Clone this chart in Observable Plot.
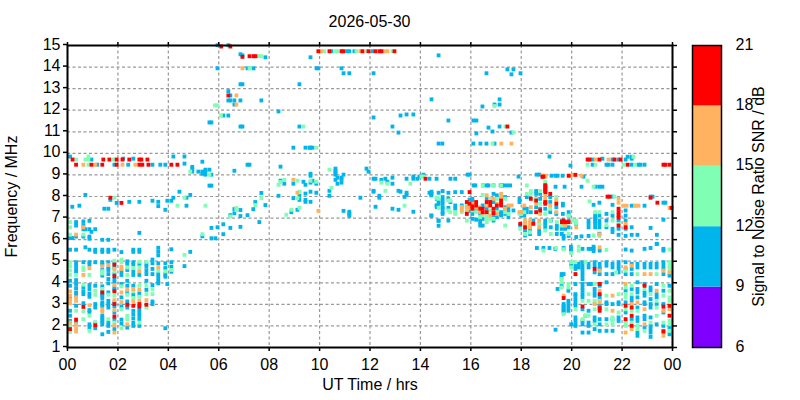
<!DOCTYPE html>
<html><head><meta charset="utf-8">
<script src="https://cdn.jsdelivr.net/npm/d3@7"></script>
<script src="https://cdn.jsdelivr.net/npm/@observablehq/plot@0.6"></script>
<style>
html,body{margin:0;padding:0;background:#fff}
#wrap{position:relative;width:800px;height:400px;overflow:hidden;font-family:"Liberation Sans",Arial,sans-serif}
#title{position:absolute;left:0;width:739px;top:13px;text-align:center;font-size:16px;color:#000}
#main,#bar{position:absolute;top:0}
#main{left:0}#bar{left:680px}
svg{overflow:visible}
</style></head><body>
<div id="wrap"><div id="title">2026-05-30</div><div id="main"></div><div id="bar"></div></div>
<script>
const xTicks = [0,2,4,6,8,10,12,14,16,18,20,22,24];
const yTicks = [1,2,3,4,5,6,7,8,9,10,11,12,13,14,15];
const snrBands = [6,9,12,15,18,21];
const bandColors = ["#8000ff","#00b4ec","#80ffb4","#ffb360","#ff0000"];

// each entry: [UT hour, [frequencies in MHz]]
const snr10 = [
 // morning block
 [0.12,[9.78,6.0,5.46,4.02,3.79,3.25,2.63,2.4,2.16]],
 [0.21,[7.45,6.0]],[0.49,[7.5]],
 [0.36,[6.74,6.58,6.07,5.46,4.88,4.72,4.56,4.41,4.05,3.87,3.68,3.48,3.33,2.86,2.08]],
 [0.65,[6.77,6.6,6.41,6.07,4.88,3.71,3.53,3.4,2.98]],
 [0.73,[8.0,6.41,5.57]],
 [0.89,[6.8,6.41,6.07,5.97,5.46,4.88,4.77,3.82,3.64,3.43,3.28,2.66,2.58,2.0,1.85]],
 [0.97,[6.29,9.64]],
 [1.12,[6.41,5.46,5.36,4.88,3.79,2.94,2.78,1.82,2.08]],
 [1.2,[9.4]],
 [1.40,[5.92,5.46,5.36,4.88,4.77,4.52,4.26,3.76,3.53,3.4,3.33,3.22,3.02,2.94,2.83,2.4,2.3,2.2,2.1,2.0,1.54]],
 [1.48,[7.36]],
 [1.64,[7.36,5.92,5.46,5.36,4.88,4.64,4.52,4.33,4.1,3.9,3.48,3.09,2.94,2.78,2.08,1.93,1.65]],
 [1.72,[7.77]],
 [1.88,[9.4,5.46,4.83,4.64,4.33,4.1,3.95,3.71,3.6,3.02,2.83,2.55,2.22,1.78]],
 [1.97,[7.63]],[2.16,[5.35,4.46,4.29,3.87,3.25,2.83,2.22,2.04]],
 [2.23,[9.68]],[2.43,[9.4]],[2.47,[7.68]],
 [2.39,[4.92,4.8,4.52,4.02,3.79,3.48,3.06,2.78,1.85]],
 [2.63,[9.68,5.46,5.36,4.88,4.77,4.46,4.29,3.79,3.37,2.63,2.47,2.28,2.08,1.93]],
 [2.87,[7.68,6.24,5.46,5.36,4.8,4.29,3.43,2.7,2.55,2.4,2.24,1.93]],
 [3.15,[4.8,4.67,4.49,4.33,4.02,3.6]],
 [3.39,[9.4,7.73,5.0,4.83,4.57,4.33,3.82,3.06,2.94]],
 [3.62,[7.68,7.48,5.55,5.37,5.2,4.83,4.33,4.18,4.02,3.9]],[3.7,[9.4]],
 [3.9,[9.4,7.31,4.83,4.61,4.33,4.21,1.82]],[3.98,[7.73,3.87]],
 [4.14,[7.73,5.48,4.88,4.67,4.44]],[4.22,[9.78,7.87]],[4.46,[8.15]],
 [4.66,[9.78,9.45,4.7]],[4.74,[7.87,7.5]],[4.89,[8.0,5.36]],
 // daytime scatter
 [4.97,[9.3,9.2,9.08]],[5.21,[9.08]],[5.37,[9.54,9.08,8.98,6.08]],
 [5.49,[9.17,9.08,8.94]],[5.65,[9.17,8.43,11.36]],[5.73,[8.94,8.43,11.36,6.47,5.99]],
 [5.89,[5.99]],[5.97,[14.94,13.87,6.5]],[6.4,[14.94,12.81,12.38,11.68]],
 [6.2,[11.68,6.64,6.18]],[6.48,[12.61,12.38,7.06,6.47]],[6.64,[12.38,12.19,9.12,7.34,7.15]],
 [6.88,[14.52,13.13,12.38,7.3,7.02,6.52,11.17]],[6.96,[14.47,13.13,11.17]],[7.16,[13.87,9.4,7.06]],
 [7.24,[9.4]],[7.4,[13.87]],[7.39,[7.34]],[7.47,[7.67]],[7.63,[6.74]],[7.71,[12.38,8.09]],
 [7.87,[14.38,7.53]],[8.39,[11.87,7.96]],[8.47,[9.31,8.66]],[8.62,[8.52]],
 [8.9,[7.2]],[8.98,[10.19,8.52,7.85]],[9.14,[7.31]],[9.22,[13.13,11.17,7.96,7.77]],
 [9.38,[8.61]],[9.46,[10.19,8.47,8.06,7.77,7.68]],[9.62,[10.19]],
 [9.66,[14.38,10.19,8.98,8.89,8.57,8.15,7.68]],[9.74,[10.19,8.66]],[9.89,[8.52,8.1]],
 [9.9,[13.87]],[9.97,[13.87]],[10.41,[8.19,7.96]],[10.49,[14.66]],[10.65,[9.22,9.12,9.03,8.94,8.7]],
 [10.73,[8.8,8.52]],[10.89,[13.87,8.8,8.74,8.57]],[10.97,[13.64,8.94,7.26]],[11.12,[14.66]],
 [11.2,[14.66,13.64,7.22,7.12,7.03]],[11.4,[14.66]],[11.64,[7.87]],[11.88,[9.22]],[11.96,[9.08]],
 [12.12,[14.66]],[12.16,[13.64,11.59,8.75,8.19,8.15]],[12.24,[8.75,7.45]],[12.39,[7.96,7.87]],
 [12.47,[8.7]],[12.63,[8.75]],[12.71,[8.61]],[12.91,[11.17,8.8,8.52,7.36]],[13.15,[10.89,8.19,7.31]],
 [13.23,[11.68,8.15]],[13.39,[7.91]],[13.47,[11.73,8.75,8.1,8.0]],[13.74,[11.73,8.85,8.75,7.22]],
 [13.9,[8.75]],[13.98,[8.85]],[14.14,[8.94]],[14.38,[8.75,8.1]],[14.46,[12.43,8.15,8.05,7.03]],
 [14.66,[8.75,7.5]],[14.74,[14.47,10.38,8.1,6.8,6.57]],
 // afternoon band
 [14.45,[8.05,7.98,7.05]],[14.67,[7.82,7.51,7.43]],[14.74,[7.74,7.59,6.81]],
 [14.89,[10.38]],[14.9,[8.18,7.9,7.74,7.59,7.43,7.36,7.2,7.12]],[15.13,[11.45,8.1,7.82,7.4,6.81]],
 [15.21,[8.75,7.67]],[15.4,[8.75,8.13,7.51,7.36]],[15.66,[8.13,7.51]],[15.86,[7.51,7.36]],
 [15.89,[8.94]],[15.97,[8.94,7.78,7.26]],[16.08,[7.82,7.74,7.12,6.89]],[16.12,[11.45,10.38]],
 [16.13,[8.44]],[16.2,[8.44]],[16.23,[7.26,6.85]],[16.24,[11.45,10.85]],[16.39,[7.12,6.89,6.74,6.58]],
 [16.4,[10.38]],[16.48,[12.1]],[16.49,[7.51,6.89,6.58]],[16.5,[8.44]],[16.64,[13.64,10.38]],
 [16.65,[8.44,7.82,7.36]],[16.72,[11.12,8.44]],[16.88,[10.94]],[16.92,[8.44,8.05,7.67,7.05,6.81]],
 [16.96,[12.19,10.38]],[17.05,[7.98,7.36,6.97]],[17.16,[12.43,12.19,11.17]],[17.2,[8.44]],
 [17.22,[7.2,7.12,7.05]],[17.25,[8.44]],[17.3,[8.44]],[17.38,[7.9,7.43,7.28,7.12]],[17.45,[8.44]],
 [17.47,[13.82]],[17.51,[7.36,7.2,6.97]],[17.58,[8.44]],[17.63,[13.59,10.89]],[17.71,[13.82,7.28]],
 [17.91,[8.85]],[17.95,[7.82,7.67]],[17.99,[13.64]],[18.02,[7.05]],[18.14,[7.36,7.2,7.05]],
 [18.24,[7.9,7.36,7.2]],[18.4,[7.2]],[18.61,[8.18,8.05,7.43]],[18.63,[8.94]],[18.74,[8.94]],
 [18.77,[8.05,7.82,7.36]],[18.97,[7.67,7.36]],[19.17,[7.9,7.67,7.2]],[19.22,[8.89]],
 [19.38,[8.89,8.38]],[19.41,[7.43,7.12]],[19.46,[8.89]],[19.66,[8.89]],[19.67,[7.59,7.51,7.12]],
 [19.74,[8.38]],[19.14,[9.78]],[19.97,[9.36]],[20.41,[8.38]],[20.49,[8.85]],[20.85,[9.64,9.4]],
 [20.97,[8.38]],[21.12,[8.38,7.64]],[21.24,[9.68,8.38]],[20.89,[7.54]],[21.4,[9.4]],[21.48,[9.4]],
 [21.64,[9.64,9.4,7.92,7.54]],[21.88,[9.64]],[22.16,[9.64,7.28]],[22.24,[9.77]],[22.4,[9.77,9.68,9.4,7.5]],
 [22.67,[9.4]],[22.75,[9.4]],[22.91,[9.4,7.5]],[23.15,[7.92,6.47]],[23.23,[7.92]],
 [23.66,[7.64,6.85]],[23.74,[7.64]],[23.4,[6.15,5.73]],
 // evening 6-7 MHz
 [17.98,[6.58]],[18.17,[6.35,6.12]],[18.37,[6.35,6.19]],[18.5,[6.81]],[18.73,[6.35,6.19]],
 [18.97,[6.81,6.66,6.5]],[19.19,[6.81,6.5]],[19.43,[6.58,6.43,6.19]],[19.63,[6.81,6.43,6.19]],
 [19.76,[6.43]],[19.9,[6.81,6.5]],[19.7,[6.1,5.98]],[19.9,[7.2,7.04,6.1]],[20.2,[6.66,6.05]],
 [20.41,[6.08]],[20.69,[6.81,6.66,6.5,6.1]],[20.95,[7.04,6.9,6.81,6.66,6.5]],
 [21.12,[7.04,6.81,6.66,6.5,6.2]],[21.4,[7.12,6.81,6.5]],[21.64,[7.04,6.43,6.28]],
 [21.88,[6.81,6.43,6.15]],[22.16,[7.04,6.81,6.43,6.1]],[22.4,[6.5,6.15]],[22.63,[6.15]],
 // 5.5 MHz row
 [18.64,[5.54]],[18.9,[5.54]],[19.14,[5.54]],[19.7,[5.54]],[19.37,[5.5]],[19.99,[5.6,5.5,5.4]],
 [20.45,[5.5]],[20.69,[5.5]],[20.77,[5.5]],[20.89,[5.6,5.5,5.4]],[21.13,[5.42]],[22.16,[5.47]],
 [22.4,[5.42]],[22.91,[5.5]],[23.15,[5.54]],[23.39,[5.73]],[23.66,[5.5,5.42]],
 // evening block 1.5-5 MHz
 [19.38,[1.75]],[19.46,[3.64]],[19.62,[4.33,4.18,3.79]],[19.7,[4.33,2.94,2.86,2.78,2.7,2.63,2.55]],
 [19.89,[3.56,3.09,2.94,2.78,2.63]],[20.0,[4.8,2.0]],
 [20.17,[4.72,4.57,3.87,3.4,3.33,3.17,3.02,2.86,2.32,2.16,2.0,1.93]],[20.3,[4.8,4.64]],
 [20.45,[4.88,4.72,4.57,4.41,4.26,4.1,3.87,3.71,3.56,3.4,3.25,2.7,2.16,2.0,1.62]],
 [20.57,[2.4]],[20.69,[4.8,4.64,3.87,2.63,2.08,1.93,1.62]],[20.8,[3.87]],
 [20.93,[4.88,4.72,4.41,3.64,3.48,3.33,2.32,2.16,1.78]],
 [21.13,[4.8,4.64,4.57,4.33,3.87,3.79,3.33,3.17,2.86,2.78,2.24,2.0,1.7]],
 [21.4,[4.88,4.72,4.33,3.95,3.02,2.94,2.24,1.7]],[21.64,[4.8,4.64,4.33,2.94,2.24,1.7]],
 [21.88,[4.88,4.72,4.57,4.41,3.02,2.94,2.32,2.16]],
 [22.16,[4.88,4.57,4.33,3.56,3.02,2.55]],[22.4,[4.8,4.57,4.33,3.64,3.25,3.09,2.24]],
 [22.63,[4.8,4.64,3.95,3.64,3.48,3.25,2.78,2.32,2.16,1.62,1.47]],
 [22.91,[4.8,4.64,3.87,3.48,3.33,3.02,2.94,2.4,2.24,1.85]],
 [23.15,[4.8,4.64,3.71,3.56,3.17,2.94,2.78,2.32,1.93,1.78,1.62,1.42]],
 [23.39,[4.8,4.64,3.87,3.4,3.25,2.94,2.0]],
 [23.66,[4.88,4.72,4.57,4.33,3.56,2.94,2.55,1.93,1.7]],[23.9,[4.26,3.79,1.85,1.54]]
];
const snr13 = [
 [0.12,[6.74,6.5,6.16,4.88,4.7,4.5,4.3,1.93,1.65]],[0.36,[9.64,4.29,2.63]],[0.73,[9.64]],
 [0.85,[9.64,9.78,9.4]],[0.65,[6.16,4.64,4.52,3.84,2.61,2.24]],[0.89,[4.29,2.4,1.7]],
 [1.12,[3.56,3.37,2.08]],[1.40,[4.46,4.36,3.64]],[1.64,[3.37,2.24]],[1.86,[9.64]],
 [1.88,[7.87,4.95,4.46,3.33,2.08]],[2.16,[5.0,4.88,3.76,2.7,1.82]],[2.39,[4.64,4.29,3.37,2.4,2.24]],
 [2.63,[4.61,3.53,3.22]],[2.87,[4.9,4.64,3.79,3.28,2.08]],[3.15,[4.9,3.79,3.4,2.78]],
 [3.39,[3.64,3.4]],[3.62,[4.49]],[3.9,[4.46]],[4.14,[4.52]],[4.38,[7.5]],[4.66,[7.87,5.22]],
 [4.89,[9.08]],[5.49,[7.5]],[5.37,[6.18]],[5.65,[8.94]],
 [5.87,[12.15]],[5.95,[12.15]],[6.11,[11.68]],[6.72,[7.39,7.3]],[6.48,[7.0]],[7.24,[13.87]],
 [7.47,[7.53]],[7.63,[14.43]],[7.71,[14.43,7.85]],[8.39,[8.47]],[8.47,[8.6]],[8.62,[8.7]],[8.7,[7.08]],
 [8.9,[7.31]],[9.14,[8.66,7.85]],[9.22,[8.15,7.4]],[9.38,[11.17]],[9.66,[8.66]],[9.89,[10.19,8.61]],
 [10.21,[14.66]],[10.41,[9.17]],[10.49,[8.33]],[10.65,[14.66]],[10.73,[14.66]],[11.48,[14.66]],
 [11.88,[14.66]],[12.47,[8.57]],[12.63,[8.19]],[12.71,[8.52]],[12.91,[14.66]],[13.39,[7.5]],[13.62,[8.52]],
 [14.14,[8.85]],[14.66,[7.87]],[14.74,[7.82,7.4]],[14.06,[8.85]],[16.96,[12.12]],[16.88,[10.38]],
 [17.39,[11.17]],[17.71,[10.89]],
 // afternoon band
 [14.67,[7.87]],[15.13,[7.74,7.28]],[15.2,[7.74,7.2]],[15.4,[7.2,7.12]],[15.66,[7.2]],[15.86,[7.59,7.28,6.81]],
 [15.97,[7.51]],[16.08,[7.28]],[16.23,[7.2]],[16.39,[6.97]],[16.49,[8.44,8.0,7.05]],[16.65,[7.05,6.89,6.74]],
 [16.79,[7.82,7.28,6.89]],[16.92,[8.44,6.89]],[17.05,[7.82,7.2]],[17.22,[8.44,7.82,7.67]],
 [17.38,[7.82,7.2,6.58]],[17.51,[7.12]],[17.95,[7.12]],[18.02,[7.12]],[18.14,[7.2]],[18.24,[8.05,8.44]],
 [18.4,[8.18,8.05]],[18.61,[7.82]],[18.77,[8.18,7.59]],[18.97,[8.6,7.12]],[19.17,[7.36,6.81]],
 [19.41,[7.9]],[20.65,[9.4,8.66]],[20.89,[8.38]],[20.97,[9.4]],[20.73,[7.7]],[21.72,[7.92]],
 [22.08,[9.4]],[22.47,[9.77]],[22.53,[9.4]],[22.55,[7.5]],
 [17.98,[6.43]],[18.17,[6.19]],[18.37,[6.27]],[18.73,[6.66]],[18.97,[6.35]],[19.19,[6.19]],[19.43,[6.74]],
 [19.63,[6.58]],[19.9,[6.19,7.04]],[20.2,[6.81,6.7]],[20.95,[7.2]],[21.12,[7.2,6.1]],[21.64,[7.2,6.81]],
 [21.4,[6.6]],[21.88,[6.66]],[22.16,[6.6]],[20.05,[6.81]],[20.89,[6.12]],
 // 5.5 row
 [19.4,[5.54]],[18.9,[5.42]],[19.7,[5.48]],[20.3,[5.6,5.42]],[21.4,[5.45]],[23.9,[5.47]],[19.99,[5.3]],
 // evening block
 [19.62,[4.1,3.95,3.71]],[19.7,[2.47]],[19.89,[3.87,3.71]],[20.0,[4.88,4.64]],[20.17,[4.88,2.7]],
 [20.45,[3.09,2.24]],[20.57,[4.88,2.4]],[20.69,[3.4,3.09,2.4]],[20.93,[3.87,3.09,3.02,2.7,2.0]],
 [21.13,[3.09]],[21.4,[3.33,2.7,2.0]],[21.64,[2.32,2.16,2.0]],[21.78,[4.41]],[21.88,[3.4,2.55]],
 [22.16,[4.49,3.71,3.4,3.25,2.7,2.08,1.93]],[22.4,[3.79,3.4,2.63,2.08]],[22.63,[4.33,2.63,1.93,1.78]],
 [22.91,[3.64,1.7]],[23.15,[3.4,2.08]],[23.39,[4.33,3.09,2.78,2.4]],[23.66,[3.79,3.33,2.08]],
 [23.9,[4.88,4.72,4.57,3.56,3.25,3.09,2.16,2.0,1.7]]
];
const snr16 = [
 [0.12,[3.53,3.33,3.14,2.98,2.08]],[0.36,[6.16,3.25,3.09,2.0,1.82,1.67]],[0.65,[9.4,6.5,4.29]],
 [0.89,[4.6,2.88]],[1.12,[9.4]],[1.40,[4.69,2.7,2.58]],[1.64,[4.75]],
 [1.88,[4.57,3.82,3.12,2.66,1.96,1.62]],[2.16,[4.67,4.57,3.48,3.03]],[2.2,[9.4]],[2.39,[3.6,2.0]],
 [2.63,[3.64,3.06]],[2.71,[9.4]],[2.87,[4.46,3.6,3.09]],[3.15,[3.12]],[3.62,[4.64]],
 [6.72,[12.61,12.19]],[6.96,[13.87]],[8.98,[8.7]],[9.14,[8.1]],[9.97,[7.26]],[10.09,[14.66]],
 [11.64,[14.66]],[12.63,[14.66]],[12.71,[14.66]],[17.23,[10.38]],[17.63,[10.38]],[18.98,[8.85]],
 // afternoon band
 [15.66,[7.44,7.36,7.28]],[15.86,[7.43,7.2]],[15.97,[7.4]],[16.08,[7.59]],[16.23,[7.41]],[16.39,[7.43,7.2]],
 [16.49,[7.15]],[16.65,[7.98,7.51]],[16.79,[7.05]],[16.92,[7.82,7.28]],[17.05,[7.59,7.12]],
 [17.22,[8.05,7.9]],[17.38,[7.36]],[17.51,[7.51]],[17.64,[7.51]],[17.95,[7.2]],[18.02,[7.2]],[18.14,[7.51]],
 [18.4,[7.43]],[18.61,[7.59]],[18.77,[7.12]],[18.97,[7.98,7.82]],[19.17,[7.51]],[19.41,[7.74,7.2]],
 [18.17,[6.81,6.7,6.58]],[18.37,[6.81,6.7,6.58,6.5]],[18.73,[6.81,6.5]],[19.76,[6.58]],
 [18.86,[8.89]],[18.98,[8.89]],[19.97,[8.89]],[20.09,[8.93]],[20.41,[8.89]],[20.97,[9.64]],[21.48,[9.64]],
 [21.88,[7.82,7.64]],[22.08,[7.5]],[22.2,[7.5]],[22.53,[7.5]],[22.67,[7.5]],[23.9,[7.4]],
 [19.7,[6.66]],[20.2,[6.5]],[22.16,[6.66]],[21.12,[6.17]],
 [21.13,[5.57]],
 // evening block
 [19.7,[3.33]],[20.93,[2.94]],[21.13,[4.49,3.56,3.02]],[21.64,[3.33,2.63]],
 [22.16,[4.64,3.87,1.62]],[22.4,[4.72,2.94,1.78]],[22.63,[3.02]],[22.91,[4.33,2.7,2.0]],[23.15,[4.33]],
 [23.39,[3.56]],[23.66,[4.49,2.63,1.47]],[23.9,[4.41,2.7]]
];
const snr19 = [
 [0.22,[9.64]],[0.36,[9.4,2.22]],[0.97,[9.4]],[1.4,[9.4]],[1.44,[9.64]],[1.68,[9.64]],[1.72,[7.87]],
 [1.97,[9.64,9.4]],[2.2,[9.64]],[2.47,[9.64]],[2.87,[9.64,9.4]],[2.95,[9.64]],[2.99,[9.4]],[3.19,[9.64]],
 [3.23,[9.4]],[4.14,[9.4]],[4.38,[9.4]],[2.16,[7.63]],[0.12,[1.78]],[0.65,[2.81]],[1.12,[1.96]],[1.4,[3.48]],
 [1.88,[4.77,4.23,3.53,2.94,2.36]],[2.39,[2.91]],[2.63,[2.86]],[2.87,[2.94,2.83]],[3.15,[2.91]],
 [6.12,[14.88]],[6.48,[14.88]],[6.4,[12.61]],[6.96,[14.4]],[7.24,[14.43]],[7.4,[14.43]],[7.48,[14.43]],
 [9.97,[14.66]],[10.41,[14.66]],[10.89,[14.66]],[10.97,[14.66]],[11.72,[14.66]],[11.96,[14.66]],[12.24,[14.66]],
 [12.4,[14.66]],[12.48,[14.66]],[12.99,[14.66]],[14.22,[8.75]],[17.47,[11.17]],[18.9,[8.85]],
 // afternoon band
 [15.86,[7.67,7.12]],[15.97,[8.13,7.59]],[16.08,[7.47,7.36]],[16.23,[7.67,7.51]],[16.39,[7.36]],
 [16.49,[7.36,7.2]],[16.65,[7.67,7.2]],[16.79,[7.67,7.51]],[16.92,[7.36,7.16]],[17.05,[7.51]],
 [17.22,[7.74,7.59,7.51]],[18.4,[7.82]],[18.61,[7.74,7.2]],[18.77,[7.28]],[18.97,[8.44,8.29,8.18,7.59]],
 [19.17,[8.05]],[19.41,[7.59]],[17.98,[6.66]],[18.17,[6.5]],[18.5,[6.66]],[19.63,[6.74]],[19.76,[6.74]],
 [19.9,[6.74]],[19.7,[6.81]],[18.86,[8.84]],[19.9,[8.89]],[20.17,[8.93]],[18.98,[8.44,8.29,8.13,7.67]],
 [20.65,[9.64]],[20.73,[9.64]],[21.12,[9.64]],[21.72,[9.64]],[21.96,[9.64]],[22.24,[9.4]],[23.66,[9.4]],
 [23.74,[9.4]],[23.9,[9.4]],[21.44,[7.92]],[21.52,[7.92]],[23.15,[7.87]],[23.42,[7.64]],[23.98,[7.4]],
 [21.88,[7.36,7.2,7.05,6.95,6.58]],[22.16,[6.5]],
 // evening block
 [19.7,[3.22]],[20.17,[4.33]],[20.45,[2.83]],[20.93,[4.57]],[21.13,[3.87,3.4,2.63,2.75]],
 [22.16,[2.86,2.24]],[22.4,[2.78,2.4,1.93]],[22.91,[3.79]],[23.66,[2.82,1.66]],[23.9,[2.86,2.4]]
];

const snrGroups = [[10.5,snr10],[13.5,snr13],[16.5,snr16],[19.5,snr19]];
const cells = snrGroups.flatMap(([snr,rows]) =>
  rows.flatMap(([t,fs]) => fs.map(f => ({t,f,snr}))));

const colour = {type:"threshold",domain:snrBands.slice(1,-1),range:bandColors};
const tickFont = {fontSize:16,fill:"#000"};
const blank = () => "";

const main = Plot.plot({
  width:800,height:400,marginLeft:67,marginRight:128,marginTop:45,marginBottom:53,
  style:{fontFamily:"'Liberation Sans',Arial,sans-serif",background:"transparent",overflow:"visible"},
  x:{domain:[0,24]},y:{domain:[1,15]},color:colour,
  marks:[
    Plot.gridX(xTicks,{stroke:"#999",strokeOpacity:1,strokeWidth:1.2,strokeDasharray:"3 2.5"}),
    Plot.gridY(yTicks,{stroke:"#999",strokeOpacity:1,strokeWidth:1.2,strokeDasharray:"3 2.5"}),
    Plot.rect(cells,{x1:d=>d.t-0.075,x2:d=>d.t+0.075,y1:d=>d.f-0.04,y2:d=>d.f+0.14,fill:"snr"}),
    Plot.frame({stroke:"#000",strokeWidth:2}),
    Plot.axisX(xTicks,{anchor:"bottom",tickSize:4,tickPadding:7,...tickFont,tickFormat:d=>String(d%24).padStart(2,"0"),
      label:"UT Time / hrs",labelAnchor:"center",labelArrow:"none",labelOffset:42,strokeWidth:1.5,stroke:"#000"}),
    Plot.axisX(xTicks,{anchor:"top",tickSize:4,tickFormat:blank,label:null,strokeWidth:1.5,stroke:"#000"}),
    Plot.axisY(yTicks,{anchor:"left",tickSize:4,tickPadding:3,...tickFont,dy:-1,
      label:"Frequency / MHz",labelAnchor:"center",labelArrow:"none",labelOffset:62,strokeWidth:1.5,stroke:"#000"}),
    Plot.axisY(yTicks,{anchor:"right",tickSize:4,tickFormat:blank,label:null,strokeWidth:1.5,stroke:"#000"})
  ]
});
document.getElementById("main").append(main);

const bandRows = snrBands.slice(0,-1).map((lo,i)=>({lo,hi:snrBands[i+1],colour:bandColors[i]}));
const bar = Plot.plot({
  width:120,height:400,marginLeft:12,marginRight:79,marginTop:45,marginBottom:53,
  style:{fontFamily:"'Liberation Sans',Arial,sans-serif",background:"transparent",overflow:"visible"},
  x:{domain:[0,1],axis:null},y:{domain:[6,21]},
  marks:[
    Plot.rectY(bandRows,{x1:0,x2:1,y1:"lo",y2:"hi",fill:"colour"}),
    Plot.frame({stroke:"#000",strokeWidth:1.5}),
    Plot.axisY(snrBands,{anchor:"right",tickSize:0,tickPadding:14,...tickFont,dy:-1,
      label:"Signal to Noise Ratio SNR / dB",labelAnchor:"center",labelArrow:"none",labelOffset:42})
  ]
});
document.getElementById("bar").append(bar);
</script></body></html>
